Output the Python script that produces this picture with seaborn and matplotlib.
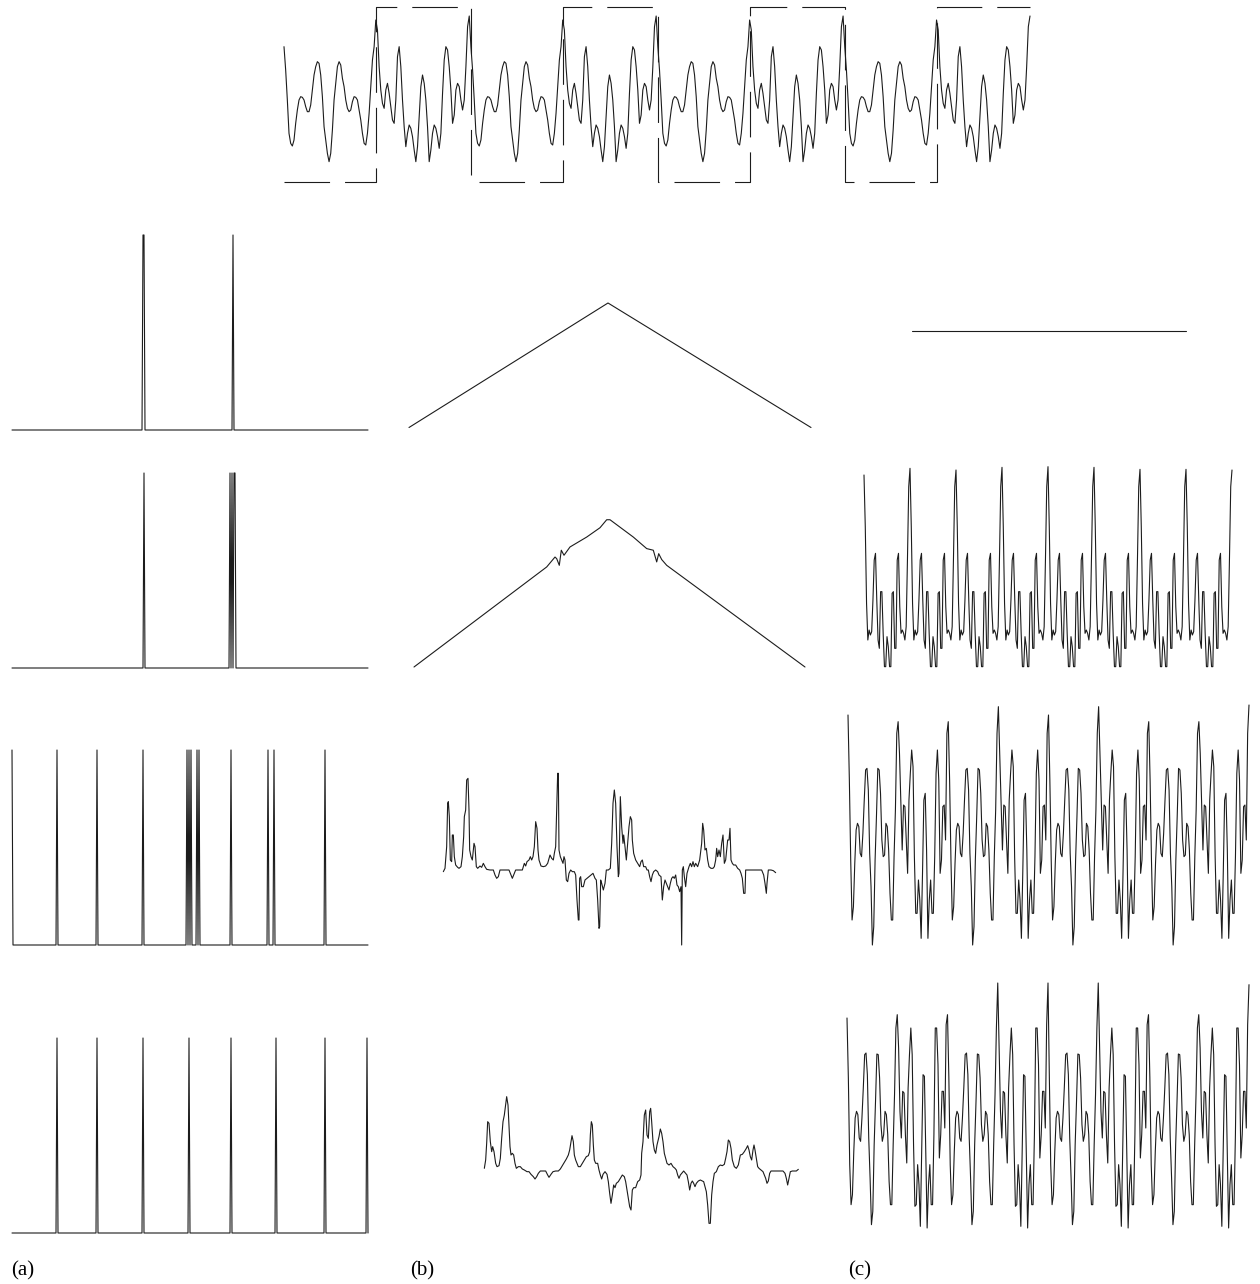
import numpy as np
import matplotlib
matplotlib.use("Agg")
import matplotlib.pyplot as plt
import seaborn as sns

# ------------------------------------------------------------------ data
# top: periodic waveform, one period = half "a" (square low) + half "b" (square high)
top_half_a = [1.6, 0.9, 0.0, -1.0, -1.3, -1.38, -1.2, -0.7, -0.3, 0.0, 0.1, 0.08, 0.0, -0.2, -0.35,
              -0.35, -0.15, 0.3, 0.75, 1.0, 1.15, 1.1, 0.75, 0.1, -0.8, -1.2, -1.6, -1.85, -1.6, -0.9,
              0.0, 0.5, 1.0, 1.15, 1.05, 0.65, 0.4, 0.0, -0.25, -0.35, -0.3, -0.05, 0.1, 0.08, 0.0,
              -0.3, -0.6, -1.0, -1.3, -1.35, -1.0, -0.4, 0.4, 1.2, 1.6]
top_half_b = [2.4, 2.1, 1.0, 0.3, -0.1, -0.25, 0.3, 0.5, 0.2, -0.2, -0.6, -0.7, 0.0, 1.3, 1.6,
              1.0, 0.0, -0.8, -1.4, -1.0, -0.75, -0.85, -1.1, -1.5, -1.85, -1.4, -0.5, 0.4, 0.75, 0.5,
              0.0, -0.8, -1.85, -1.5, -1.0, -0.75, -0.85, -1.1, -1.45, -1.0, 0.2, 1.2, 1.6, 1.5, 1.0,
              0.3, -0.7, -0.45, 0.3, 0.5, 0.4, 0.0, -0.3, 0.0, 1.0, 2.2, 2.52]
top_cycles = 4
square_edges = [0, 55, 112, 167, 224, 279, 336, 391, 447]
square_levels = [-2.46, 2.79, -2.46, 2.79, -2.46, 2.79, -2.46, 2.79, 2.79]

# (a) spike trains
spike_len = 357
spikes_a1 = [131, 132, 221]
spikes_a2 = [132, 218, 220, 222, 223]
spikes_a3 = [0, 45, 85, 131, 175, 177, 179, 185, 187, 219, 256, 262, 313]
spikes_a4 = [45, 85, 131, 177, 219, 264, 313, 355]

# (b) correlation-like curves
b1_lag = [-199, 0, 203]
b1_val = [0.0, 1.0, 0.0]
b2_lag = [-194, -61.3, -53, -51.3, -48.7, -46.7, -44, -38, -21.3, -8, -1.3, 2, 25.3, 38.7,
          45.3, 48.7, 50.7, 53.7, 58.7, 197]
b2_val = [0.0, 0.676, 0.743, 0.732, 0.687, 0.789, 0.755, 0.811, 0.878, 0.941, 0.995, 0.995,
          0.878, 0.80, 0.789, 0.71, 0.766, 0.726, 0.687, 0.0]
b3_t = [25, 30, 35, 38, 40, 43, 46, 50, 52, 55, 58, 62, 68, 72, 78, 82, 86, 88, 92, 95, 99, 102,
        104, 108, 112, 117, 120, 124, 128, 135, 140, 145, 150, 155, 165, 175, 180, 185, 190, 195,
        205, 215, 222, 228, 232, 236, 242, 252, 262, 268, 272, 276, 282, 286, 290, 294, 298, 302,
        306, 309, 312, 318, 325, 332, 338, 345, 350, 355, 358, 362, 365, 368, 370, 372, 376, 380,
        384, 387, 390, 394, 398, 402, 407, 412, 418, 422, 426, 430, 432, 434, 437, 440, 445, 450,
        456, 462, 468, 474, 480, 484, 488, 492, 494, 497, 500, 505, 510, 514, 520, 526, 530, 534,
        538, 542, 546, 550, 552, 556, 560, 564, 566, 570, 574, 578, 582, 586, 590, 592, 596, 602,
        608, 614, 618, 622, 626, 632, 636, 640, 644, 648, 652, 656, 662, 668, 672, 678, 682, 686,
        690, 694, 698, 702, 706, 710, 714, 718, 722, 726, 730, 734, 738, 740, 742, 745, 748, 752,
        756, 762, 766, 770, 774, 778, 782, 788, 794, 800, 803, 806, 810, 814, 818, 822, 828, 834,
        838, 842, 845, 848, 852, 856, 860, 864, 868, 872, 878, 882, 885, 888, 892, 896, 902, 908,
        914, 918, 922, 926, 930, 932, 940, 960, 980, 986, 990, 994, 996, 1000, 1008, 1015, 1022]
b3_v = [-0.05, 0.05, 0.70, 2.00, 2.05, 1.60, 0.30, 0.25, 1.05, 1.05, 0.40, 0.15, 0.08, 0.05,
        0.10, 0.40, 1.00, 1.60, 1.80, 2.70, 2.75, 1.80, 0.60, 0.40, 0.30, 0.80, 0.70, 0.10, 0.05,
        0.12, 0.08, 0.20, 0.10, 0.02, 0.0, 0.0, -0.15, -0.25, -0.20, 0.0, 0.0, 0.0, 0.0, -0.15,
        -0.25, -0.15, 0.0, 0.0, 0.0, 0.20, 0.12, 0.25, 0.30, 0.40, 0.30, 0.40, 0.70, 1.45, 1.25,
        0.60, 0.30, 0.12, 0.10, 0.12, 0.20, 0.45, 0.35, 0.30, 0.50, 0.70, 1.80, 2.90, 2.90, 0.60,
        0.40, 0.30, 0.20, 0.40, 0.30, -0.30, -0.35, -0.10, 0.0, -0.05, -0.05, -0.15, -0.90, -1.50,
        -1.50, -0.25, -0.20, -0.50, -0.50, -0.30, -0.25, -0.20, -0.15, -0.10, -0.25, -0.30, -0.90,
        -1.75, -1.70, -0.30, -0.40, -0.60, -0.40, 0.0, 0.0, 0.05, 0.80, 2.00, 2.40, 2.00, 0.70,
        -0.20, -0.10, 2.20, 1.30, 0.80, 1.05, 0.70, 0.30, 0.80, 1.30, 1.60, 1.50, 0.90, 0.50, 0.30,
        0.20, 0.10, 0.25, 0.30, 0.10, 0.10, 0.0, 0.0, -0.20, -0.35, -0.15, -0.05, 0.0, -0.05,
        -0.15, -0.20, -0.90, -0.50, -0.30, -0.40, -0.50, -0.60, -0.40, -0.25, -0.20, -0.25, -0.15,
        -0.45, -0.50, -0.65, -0.50, -2.25, 0.0, 0.10, -0.20, -0.50, -0.10, 0.10, 0.20, 0.10, 0.25,
        0.10, 0.20, 0.10, 0.30, 0.80, 1.40, 1.20, 0.60, 0.65, 0.30, 0.10, 0.05, 0.05, 0.10, 0.30,
        0.65, 0.40, 0.60, 0.40, 0.80, 1.05, 0.20, 0.30, 0.90, 0.90, 1.25, 0.30, 0.20, 0.15, 0.15,
        0.05, 0.0, -0.10, -0.25, -0.70, -0.70, 0.0, 0.0, 0.0, 0.0, -0.15, -0.40, -0.70, -0.40, 0.0,
        0.0, -0.02, -0.08]
b4_t = [28, 32, 35, 38, 42, 46, 50, 53, 57, 62, 66, 72, 76, 80, 84, 88, 92, 95, 99, 102, 105,
        108, 112, 116, 120, 124, 130, 136, 142, 148, 156, 162, 168, 175, 180, 185, 190, 196, 204,
        212, 218, 222, 228, 234, 242, 250, 256, 262, 268, 274, 280, 284, 288, 291, 295, 298, 302,
        306, 310, 316, 322, 328, 334, 340, 344, 346, 349, 352, 355, 358, 362, 368, 372, 376, 380,
        384, 390, 396, 400, 404, 408, 412, 416, 420, 424, 430, 436, 442, 448, 452, 456, 460, 464,
        468, 472, 476, 482, 488, 494, 498, 500, 504, 508, 512, 516, 520, 524, 527, 530, 534, 538,
        542, 546, 552, 556, 560, 564, 568, 572, 576, 582, 588, 594, 600, 604, 608, 612, 616, 620,
        626, 632, 636, 640, 644, 648, 652, 656, 660, 664, 670, 676, 682, 686, 690, 694, 698, 702,
        706, 710, 714, 718, 724, 730, 736, 742, 748, 752, 756, 760, 764, 768, 772, 778, 784, 790,
        796, 802, 808, 814, 818, 822, 826, 830, 834, 837, 840, 844, 848, 852, 858, 864, 868, 872,
        876, 880, 884, 888, 900, 912, 924, 930, 934, 938, 942, 946, 952, 958, 964, 970]
b4_v = [0.08, 0.33, 0.83, 1.48, 1.43, 0.88, 0.58, 0.73, 0.58, 0.23, 0.13, 0.16, 0.38, 0.98,
        1.48, 1.68, 1.98, 2.23, 1.98, 1.38, 0.73, 0.48, 0.53, 0.48, 0.23, 0.08, 0.13, 0.13, 0.06,
        0.03, -0.02, -0.02, -0.10, -0.17, -0.24, -0.17, -0.07, 0.0, 0.0, 0.0, -0.12, -0.19, -0.10,
        -0.02, 0.0, 0.0, 0.06, 0.16, 0.26, 0.36, 0.48, 0.63, 0.88, 1.06, 0.88, 0.48, 0.33, 0.23,
        0.13, 0.13, 0.23, 0.33, 0.43, 0.46, 0.58, 1.08, 1.48, 1.38, 0.78, 0.33, 0.23, 0.23, 0.03,
        -0.12, -0.24, -0.10, -0.02, -0.10, -0.32, -0.67, -0.97, -0.72, -0.42, -0.50, -0.37, -0.32,
        -0.22, -0.12, -0.17, -0.32, -0.57, -0.82, -1.07, -1.17, -0.57, -0.50, -0.50, -0.32, -0.27,
        -0.12, 0.53, 0.88, 1.68, 1.83, 1.08, 0.98, 1.78, 1.88, 1.48, 0.88, 0.63, 0.53, 0.78, 1.03,
        1.26, 1.13, 0.88, 0.53, 0.38, 0.23, 0.18, 0.23, 0.13, 0.08, 0.03, -0.12, -0.22, -0.12,
        -0.07, 0.0, -0.07, -0.12, -0.32, -0.57, -0.37, -0.30, -0.37, -0.47, -0.37, -0.30, -0.27,
        -0.30, -0.32, -0.47, -0.62, -1.02, -1.57, -1.57, -0.72, -0.32, -0.07, -0.02, 0.13, 0.18,
        0.16, 0.20, 0.38, 0.58, 0.93, 0.88, 0.68, 0.33, 0.13, 0.08, 0.18, 0.48, 0.50, 0.58, 0.68,
        0.76, 0.63, 0.43, 0.33, 0.63, 0.78, 0.63, 0.38, 0.13, 0.08, 0.03, -0.02, -0.12, -0.22,
        -0.37, -0.30, -0.07, 0.0, 0.0, 0.0, 0.0, -0.07, -0.22, -0.42, -0.22, -0.02, 0.0, 0.0, 0.0,
        0.05]

# (c) signals
c1_t = [0.0, 1.0]
c1_v = [0.0, 0.0]

c2_start = 2.55
c2_cycle = [1.0, -1.3, -2.4, -2.1, -2.25, -2.15, -1.2, 0.0, 0.2, -1.2, -2.4, -2.65, -0.95, -0.95,
            -2.2, -3.2, -3.2, -2.3, -2.6, -3.2, -3.2, -1.0, -0.95, -2.65, -2.65, 0.0, 0.2, -1.4,
            -2.2, -2.1, -2.2, -2.4, -2.0, 0.0, 2.2]
c2_peaks = [2.75, 2.7, 2.78, 2.8, 2.78, 2.72, 2.72, 2.7]

c3_start = 3.55
c3_cycle_b = [1.6, -0.8, -2.6, -2.2, -0.9, 0.1, 0.3, 0.2, -0.6, -0.7, 0.0, 1.0, 1.9, 1.95, 1.3,
              -0.6, -1.6, -3.35, -2.8, -0.8, 0.5, 1.95, 1.9, 1.2, -0.2, -0.7, -0.65, 0.3, 0.2,
              -0.5, -1.8, -2.6, -2.6, -0.7, 0.7, 3.0]
c3_cycle_a = [2.4, 1.0, -0.5, 0.85, 0.8, -0.2, -1.2, 1.0, 1.8, 2.5, 2.0, -0.7, -2.4, -2.4, -1.4,
              -2.0, -3.15, -1.2, 1.0, 1.2, -0.5, -3.15, -2.0, -1.4, -2.4, -2.4, -0.7, 1.8, 2.5,
              1.6, -1.2, -0.8, 0.8, 0.85, -0.2, 3.0]
c3_peaks = [3.35, 3.35, 3.8, 3.55, 3.8, 3.35, 3.35, 3.85]

c4_start = 2.8
c4_cycle_b = [1.0, -1.6, -2.8, -2.5, -1.2, -0.2, 0.0, -0.1, -0.8, -0.9, -0.2, 0.7, 1.7, 1.75, 1.1,
              -0.8, -2.0, -3.4, -3.0, -1.0, 0.3, 1.72, 1.7, 1.0, -0.4, -0.9, -0.7, 0.0, -0.1,
              -0.7, -2.1, -2.8, -2.8, -1.0, 0.5, 2.5]
c4_cycle_a = [1.9, 0.0, -0.8, 0.6, 0.55, -0.7, -1.55, 0.7, 1.7, 2.5, 1.7, -1.0, -2.85, -2.8,
              -1.6, -2.2, -3.45, -1.2, 1.1, 1.05, -1.2, -3.5, -2.2, -1.6, -2.8, -2.8, -0.7, 2.5,
              2.5, 1.4, -1.4, -0.7, 0.6, 0.6, -0.5, 2.6]
c4_peaks = [2.9, 2.9, 3.85, 3.85, 3.85, 2.9, 2.9, 3.8]

panel_labels = ["(a)", "(b)", "(c)"]

# ------------------------------------------------------------------ build series
top_wave = (top_half_a + top_half_b) * top_cycles
top_t = np.arange(len(top_wave))


def spike_train(idx):
    s = np.zeros(spike_len)
    s[idx] = 1.0
    return s


def periodic(start, cycles, peaks):
    out = [start]
    for k, p in enumerate(peaks):
        out += cycles[k % len(cycles)] + [p]
    return np.array(out)


c2_v = periodic(c2_start, [c2_cycle], c2_peaks)
c3_v = periodic(c3_start, [c3_cycle_b, c3_cycle_a], c3_peaks)
c4_v = periodic(c4_start, [c4_cycle_b, c4_cycle_a], c4_peaks)

# ------------------------------------------------------------------ figure
sns.set_theme(style="white")
plt.rcParams["font.family"] = ["Liberation Serif", "DejaVu Serif"]

W, H = 1260, 1284
fig = plt.figure(figsize=(W / 100, H / 100), dpi=100)
fig.patch.set_facecolor("white")
INK = "#1c1c1c"
LW = 0.8


def place(left, top, width, height, xlim, ylim):
    ax = fig.add_axes([left / W, 1 - (top + height) / H, width / W, height / H])
    ax.set_xlim(*xlim)
    ax.set_ylim(*ylim)
    ax.set_axis_off()
    return ax


def trace(ax, x, y, **kw):
    sns.lineplot(x=np.asarray(x, float), y=np.asarray(y, float), ax=ax, color=INK,
                 linewidth=kw.pop("linewidth", LW), estimator=None, sort=False,
                 errorbar=None, legend=False, clip_on=False, **kw)


# top
ax = place(284, 0, 746, 195, (0, len(top_wave) - 1), (-2.85, 3.0))
trace(ax, top_t, top_wave)
trace(ax, square_edges, square_levels, drawstyle="steps-post",
      linestyle=(0, (41, 13.5)))

# column (a)
sp_t = np.arange(spike_len)
for top, spikes in zip([235, 473, 750, 1038], [spikes_a1, spikes_a2, spikes_a3, spikes_a4]):
    ax = place(12, top, 356, 195, (0, spike_len - 1), (0, 1))
    trace(ax, sp_t, spike_train(spikes))

# column (b)
ax = place(409, 303, 402, 124.5, (-199, 203), (0, 1))
trace(ax, b1_lag, b1_val)
ax = place(414, 519, 391, 148, (-194, 197), (0, 1))
trace(ax, b2_lag, b2_val)
ax = place(435, 760, 355, 190, (0, 1065), (-2.4, 3.3))
trace(ax, b3_t, b3_v)
ax = place(475, 1075, 345, 150, (0, 1035), (-1.62, 2.88))
trace(ax, b4_t, b4_v)

# column (c)
ax = place(912, 321, 274, 20, (0, 1), (-1, 1))
trace(ax, c1_t, c1_v)
ax = place(864, 460, 368, 215, (0, len(c2_v) - 1), (-3.45, 3.0))
trace(ax, np.arange(len(c2_v)), c2_v)
ax = place(848, 700, 401, 250, (0, len(c3_v) - 1), (-3.5, 4.0))
trace(ax, np.arange(len(c3_v)), c3_v)
ax = place(847, 978, 402, 256, (0, len(c4_v) - 1), (-3.68, 4.0))
trace(ax, np.arange(len(c4_v)), c4_v)

for lbl, xp in zip(panel_labels, [11, 410, 848]):
    fig.text(xp / W, 1 - 1271 / H, lbl, fontsize=15, ha="left", va="center", color="black")

fig.savefig("out.png", dpi=100, facecolor="white")
